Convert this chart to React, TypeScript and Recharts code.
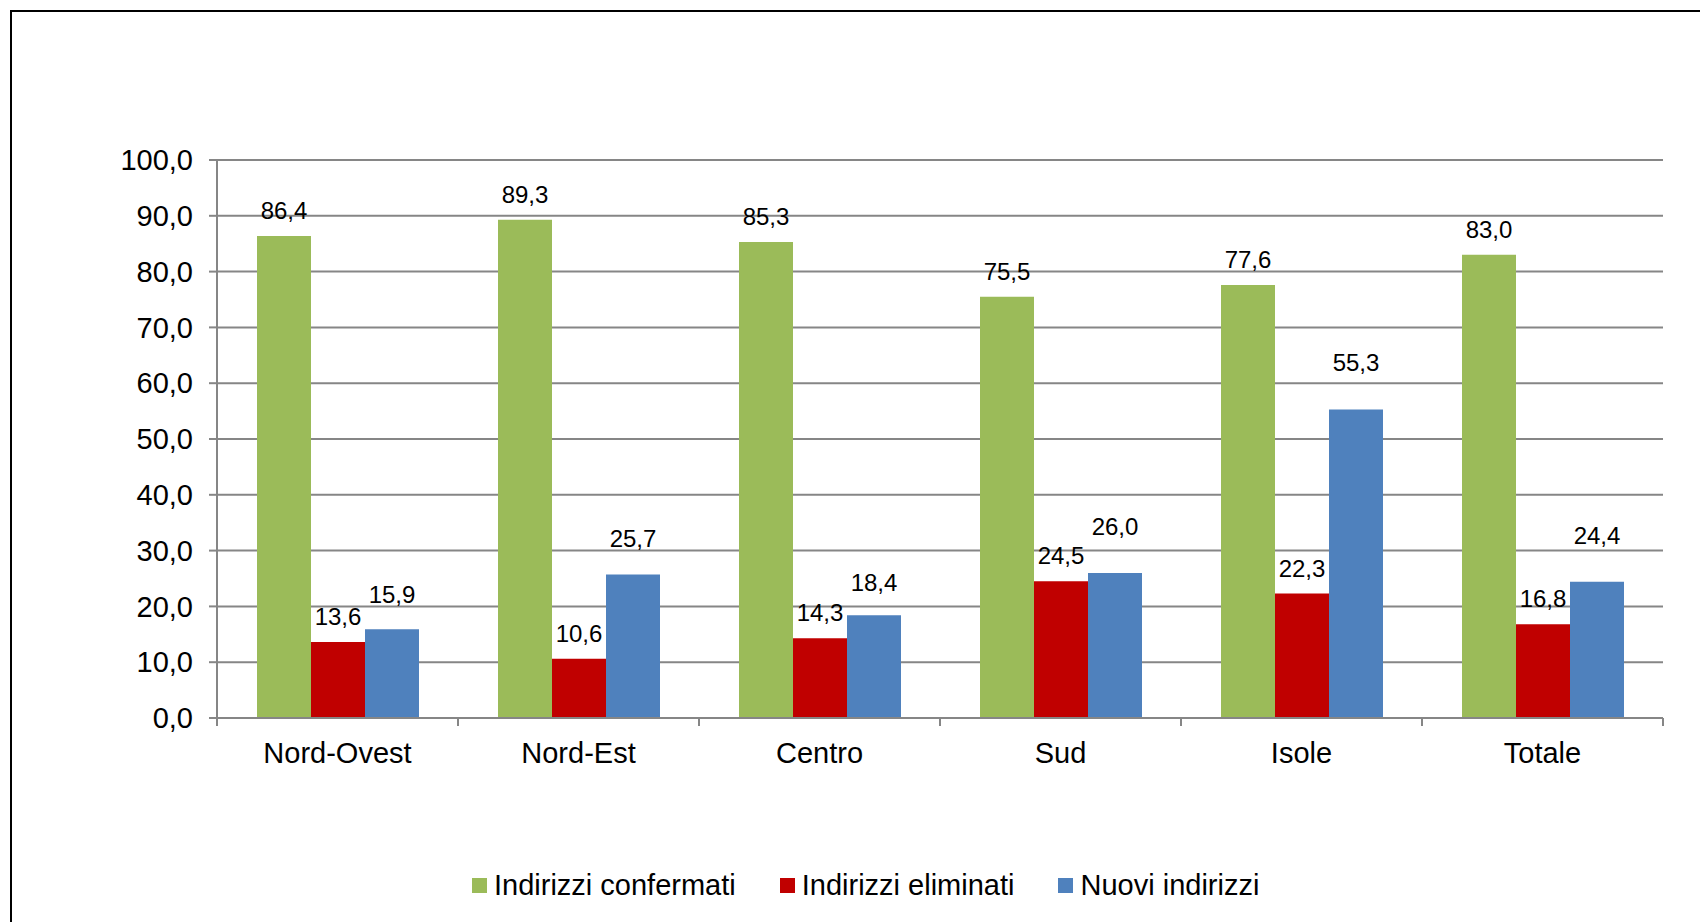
import { Bar, BarChart, CartesianGrid, LabelList, Legend, XAxis, YAxis } from 'recharts';

const categories = ['Nord-Ovest', 'Nord-Est', 'Centro', 'Sud', 'Isole', 'Totale'];
const confermati = [86.4, 89.3, 85.3, 75.5, 77.6, 83.0];
const eliminati = [13.6, 10.6, 14.3, 24.5, 22.3, 16.8];
const nuovi = [15.9, 25.7, 18.4, 26.0, 55.3, 24.4];
const yTicks = [0, 10, 20, 30, 40, 50, 60, 70, 80, 90, 100];
const seriesNames = ['Indirizzi confermati', 'Indirizzi eliminati', 'Nuovi indirizzi'];
const seriesColors = ['#9BBB59', '#C00000', '#4F81BD'];
// the blue labels were nudged by hand in the original, so lift each one a bit differently
const nuoviLabelLift = [26, 28, 24, 38, 38, 38];

const data = categories.map((name, i) => ({
  name,
  confermati: confermati[i],
  eliminati: eliminati[i],
  nuovi: nuovi[i],
}));

const W = 1700;
const H = 922;
const margin = { top: 160, right: 37, bottom: 144, left: 117 };
const Y_AXIS_W = 100;
const BAND = (W - margin.left - margin.right - Y_AXIS_W) / categories.length;
const GRID = '#868686';
const FONT = '"Liberation Sans", Arial, sans-serif';

const fmt = (v: any) => Number(v).toFixed(1).replace('.', ',');

function CategoryTick(props: any) {
  const { x, y, payload, index } = props;
  const half = BAND / 2;
  return (
    <g>
      <line x1={x - half} x2={x - half} y1={y} y2={y + 8} stroke={GRID} strokeWidth={2} />
      {index === categories.length - 1 && (
        <line x1={x + half} x2={x + half} y1={y} y2={y + 8} stroke={GRID} strokeWidth={2} />
      )}
      <text x={x} y={y + 45} textAnchor="middle" fontSize={29} fill="#000">
        {payload.value}
      </text>
    </g>
  );
}

function NuoviLabel(props: any) {
  const { x, y, width, value } = props;
  const i = props.index ?? nuovi.indexOf(Number(value));
  return (
    <text x={x + width / 2} y={y - (nuoviLabelLift[i] ?? 32)} textAnchor="middle" fontSize={24} fill="#000">
      {fmt(value)}
    </text>
  );
}

function LegendContent() {
  return (
    <div style={{ display: 'flex', alignItems: 'center', fontFamily: FONT, fontSize: 29, color: '#000', whiteSpace: 'nowrap' }}>
      {seriesNames.map((n, i) => (
        <div key={n} style={{ display: 'flex', alignItems: 'center', marginRight: i < 2 ? 44 : 0 }}>
          <span style={{ width: 15, height: 15, background: seriesColors[i], marginRight: 7, display: 'inline-block' }} />
          <span>{n}</span>
        </div>
      ))}
    </div>
  );
}

export default function App() {
  return (
    <div style={{ position: 'absolute', left: 0, top: 0, width: W, height: H, overflow: 'hidden', background: '#fff' }}>
      <div
        style={{
          position: 'absolute',
          left: 10,
          top: 10,
          width: W,
          height: H,
          border: '2px solid #000',
          boxSizing: 'border-box',
        }}
      />
      <div style={{ position: 'absolute', left: 0, top: 0 }}>
        <BarChart
          width={W}
          height={H}
          data={data}
          margin={margin}
          barGap={0}
          barCategoryGap={40}
          style={{ fontFamily: FONT }}
        >
          <CartesianGrid horizontal vertical={false} stroke={GRID} strokeWidth={2} />
          <XAxis
            dataKey="name"
            height={60}
            axisLine={{ stroke: GRID, strokeWidth: 2 }}
            tickLine={false}
            tickSize={0}
            tickMargin={0}
            tick={<CategoryTick />}
            interval={0}
          />
          <YAxis
            width={Y_AXIS_W}
            domain={[0, 100]}
            ticks={yTicks}
            tickFormatter={fmt}
            axisLine={{ stroke: GRID, strokeWidth: 2 }}
            tickLine={{ stroke: GRID, strokeWidth: 2 }}
            tickSize={8}
            tickMargin={16}
            tick={{ fill: '#000', fontSize: 29 }}
          />
          <Legend
            verticalAlign="middle"
            align="center"
            content={<LegendContent />}
            wrapperStyle={{ top: 869, left: 472, width: 'auto' }}
          />
          <Bar dataKey="confermati" name={seriesNames[0]} fill={seriesColors[0]} isAnimationActive={false}>
            <LabelList dataKey="confermati" position="top" offset={17} formatter={fmt} fill="#000" fontSize={24} />
          </Bar>
          <Bar dataKey="eliminati" name={seriesNames[1]} fill={seriesColors[1]} isAnimationActive={false}>
            <LabelList dataKey="eliminati" position="top" offset={17} formatter={fmt} fill="#000" fontSize={24} />
          </Bar>
          <Bar dataKey="nuovi" name={seriesNames[2]} fill={seriesColors[2]} isAnimationActive={false}>
            <LabelList dataKey="nuovi" content={<NuoviLabel />} />
          </Bar>
        </BarChart>
      </div>
    </div>
  );
}
